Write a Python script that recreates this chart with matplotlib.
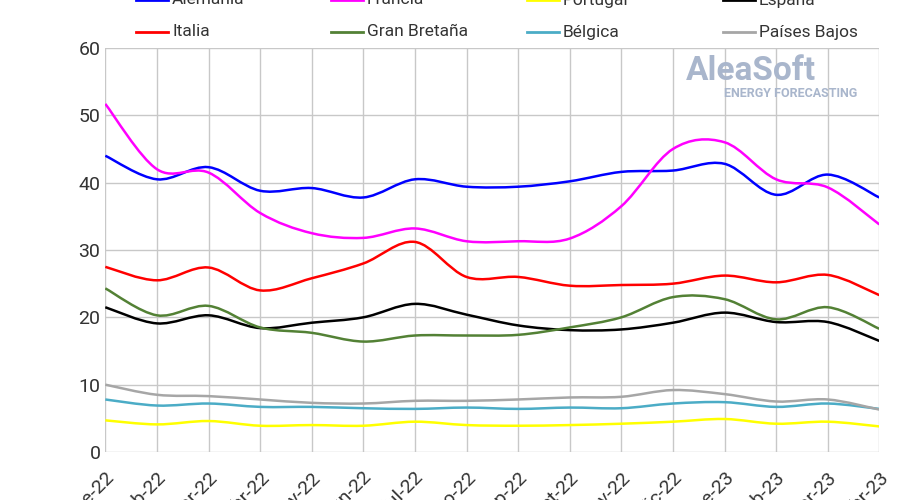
import matplotlib
matplotlib.use("Agg")
import matplotlib.pyplot as plt
from matplotlib.path import Path
from matplotlib.patches import PathPatch
from matplotlib.lines import Line2D
import numpy as np

plt.rcParams["font.family"] = "Roboto"

labels = ["ene-22","feb-22","mar-22","abr-22","may-22","jun-22","jul-22","ago-22",
          "sep-22","oct-22","nov-22","dic-22","ene-23","feb-23","mar-23","abr-23"]
alemania = [44,40.5,42.3,38.8,39.2,37.8,40.5,39.4,39.4,40.2,41.6,41.8,42.8,38.2,41.2,37.8]
francia = [51.7,42,41.5,35.5,32.5,31.8,33.2,31.3,31.3,31.7,36.5,45,46,40.5,39.3,33.8]
portugal = [4.7,4.1,4.6,3.9,4.0,3.9,4.5,4.0,3.9,4.0,4.2,4.5,4.9,4.2,4.5,3.8]
espana = [21.5,19.1,20.3,18.4,19.2,20,22,20.4,18.8,18.1,18.2,19.2,20.7,19.3,19.3,16.5]
italia = [27.5,25.5,27.4,24,25.8,28,31.2,26,26,24.7,24.8,25,26.2,25.2,26.3,23.3]
gran_bretana = [24.3,20.3,21.7,18.5,17.7,16.4,17.3,17.3,17.4,18.5,20,23,22.7,19.7,21.5,18.3]
belgica = [7.8,6.9,7.2,6.7,6.7,6.5,6.4,6.6,6.4,6.6,6.5,7.2,7.4,6.7,7.2,6.4]
paises_bajos = [10,8.5,8.3,7.8,7.3,7.2,7.6,7.6,7.8,8.1,8.2,9.2,8.6,7.5,7.8,6.3]

series = [("Alemania", alemania, "#0000ff"), ("Francia", francia, "#ff00ff"),
          ("Portugal", portugal, "#ffff00"), ("España", espana, "#000000"),
          ("Italia", italia, "#ff0000"), ("Gran Bretaña", gran_bretana, "#538135"),
          ("Bélgica", belgica, "#4bacc6"), ("Países Bajos", paises_bajos, "#a6a6a6")]

fig = plt.figure(figsize=(9, 5), dpi=100)
ax = fig.add_axes([0.117, 0.096, 0.86, 0.808])
x = np.arange(len(labels))

def smooth_path(xs, ys, t=1/6):
    verts = [(xs[0], ys[0])]
    codes = [Path.MOVETO]
    n = len(xs)
    for i in range(n - 1):
        p0 = (xs[max(i-1, 0)], ys[max(i-1, 0)])
        p1 = (xs[i], ys[i]); p2 = (xs[i+1], ys[i+1])
        p3 = (xs[min(i+2, n-1)], ys[min(i+2, n-1)])
        c1 = (p1[0] + (p2[0]-p0[0])*t, p1[1] + (p2[1]-p0[1])*t)
        c2 = (p2[0] - (p3[0]-p1[0])*t, p2[1] - (p3[1]-p1[1])*t)
        verts += [c1, c2, p2]
        codes += [Path.CURVE4]*3
    return Path(verts, codes)

for name, vals, col in series:
    ax.add_patch(PathPatch(smooth_path(x, vals), facecolor="none", edgecolor=col, lw=1.8, zorder=3))

ax.set_xlim(0, len(labels)-1)
ax.set_ylim(0, 60)
ax.set_yticks(range(0, 61, 10))
ax.set_xticks(x)
ax.set_xticklabels(labels, rotation=45, ha="right", rotation_mode="anchor")
ax.grid(True, color="#c8c8c8", lw=1)
for s in ax.spines.values():
    s.set_visible(False)
ax.tick_params(length=0, labelsize=14, colors="#333333")
ax.tick_params(axis="x", pad=12)

col_x = [136, 331, 527, 723]
row_y = [0, 32]
for i, (name, vals, col) in enumerate(series):
    r, c = divmod(i, 4)
    x0 = col_x[c] / 900
    y0 = 1 - row_y[r] / 500
    fig.add_artist(Line2D([x0, x0 + 32/900], [y0, y0], color=col, lw=2, transform=fig.transFigure))
    fig.text(x0 + 36/900, y0, name, fontsize=12.5, color="#333333", va="center", ha="left",
             fontstretch="condensed")

fig.text(0.762, 0.84, "AleaSoft", fontsize=24, fontweight="bold", color="#a9b6cc", ha="left")
fig.text(0.805, 0.806, "ENERGY FORECASTING", fontsize=9, fontweight="bold", color="#a9b6cc", ha="left")

fig.savefig("out.png", dpi=100)
